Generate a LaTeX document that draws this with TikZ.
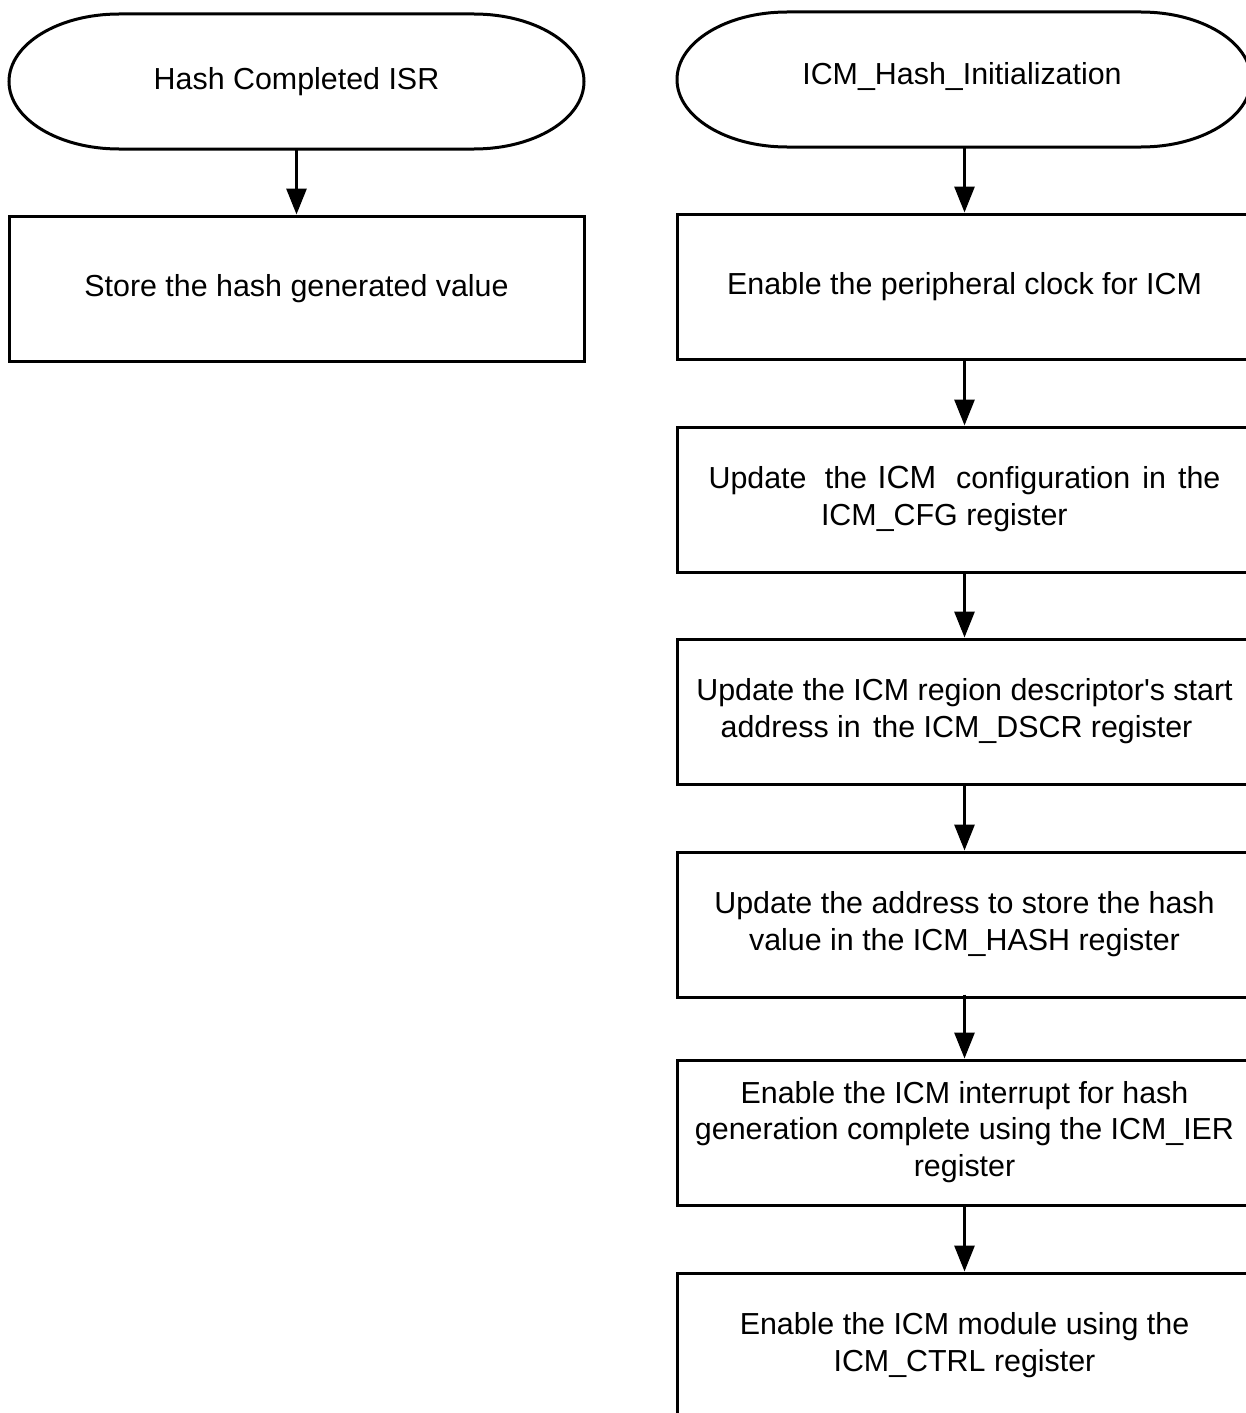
\documentclass[tikz,border=0pt]{standalone}
\usepackage{fontspec}
\setmainfont{Liberation Sans}
\usetikzlibrary{arrows.meta}
\tikzset{
  lw/.style={line width=3pt},
  stepbox/.style={lw, draw=black, rectangle, minimum width=575pt, minimum height=145pt,
    inner sep=0pt, align=center, font=\fontsize{30.4}{36.5}\selectfont},
  termtext/.style={minimum width=575pt, minimum height=135pt, inner sep=0pt,
    font=\fontsize{30.4}{36.5}\selectfont},
  flow/.style={lw, -{Triangle[width=20pt,length=26pt]}},
}
\newcommand{\terminal}[4]{% x0,y0,x1,y1
  \draw[lw] (#1+110,#2) -- (#3-110,#2)
    arc[start angle=90, end angle=-90, x radius=110pt, y radius=67.5pt]
    -- (#1+110,#4)
    arc[start angle=270, end angle=90, x radius=110pt, y radius=67.5pt] -- cycle;}
\begin{document}
\begin{tikzpicture}[x=1pt,y=-1pt]
\useasboundingbox (0,0) rectangle (1246,1413);
\clip (0,0) rectangle (1246,1413);
% left column
\terminal{9}{14}{584}{149}
\node[termtext] (isr) at (296.5,81.5) {\raisebox{6pt}{Hash Completed ISR}};
\node[stepbox] (store) at (296.5,288.5) {\raisebox{3pt}{Store the hash generated value}};
\draw[flow] (isr.south -| store.north) -- (store.north);
% right column
\terminal{677}{12}{1251}{147}
\node[termtext, minimum width=574pt] (init) at (964,79.5) {\raisebox{12pt}{\hspace{-4pt}ICM\_Hash\_Initialization}};
\node[stepbox] (clk) at (964.5,286.5) {\raisebox{4pt}{Enable the peripheral clock for ICM}};
\node[stepbox] (cfg) at (964.5,499.5) {\raisebox{5pt}{\begin{tabular}{@{}l@{}}Update\hspace{0.6em}the\hspace{0.35em}{\fontsize{32}{36}\selectfont ICM}\hspace{0.65em}configuration\hspace{0.4em}in\hspace{0.4em}the\\\hspace{3.7em}ICM\_CFG register\end{tabular}}};
\node[stepbox] (dscr) at (964.5,711.5) {\raisebox{5pt}{\begin{tabular}{@{}l@{}}Update the ICM region descriptor\textquotesingle s start\\\hspace{0.8em}address in\hspace{0.4em}the ICM\_DSCR register\end{tabular}}};
\node[stepbox] (hash) at (964.5,924.5) {\raisebox{5pt}{\begin{tabular}{@{}c@{}}Update the address to store the hash\\value in the ICM\_HASH register\end{tabular}}};
\node[stepbox] (ier) at (964.5,1132.5) {\raisebox{5pt}{\begin{tabular}{@{}c@{}}Enable the ICM interrupt for hash\\generation complete using the ICM\_IER\\register\end{tabular}}};
\node[stepbox] (ctrl) at (964.5,1345.5) {\raisebox{5pt}{\begin{tabular}{@{}c@{}}Enable the ICM module using the\\ICM\_CTRL register\end{tabular}}};
\draw[flow] (init.south -| clk.north) -- (clk.north);
\draw[flow] (clk.south) -- (cfg.north);
\draw[flow] (cfg.south) -- (dscr.north);
\draw[flow] (dscr.south) -- (hash.north);
\draw[flow] ([yshift=4pt]hash.south) -- (ier.north);
\draw[flow] (ier.south) -- (ctrl.north);
\end{tikzpicture}
\end{document}
